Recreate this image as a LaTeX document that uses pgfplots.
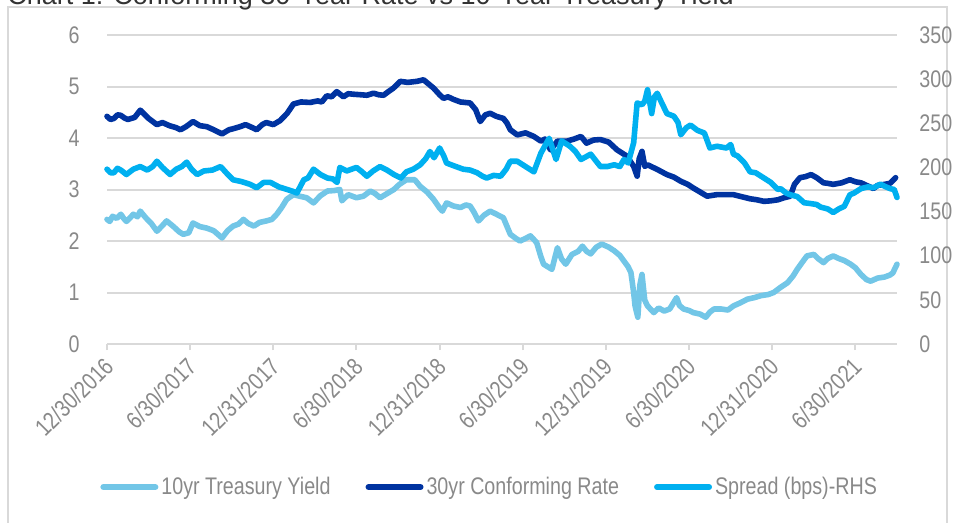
\documentclass[border=0pt]{standalone}
\usepackage{fontspec}
\setmainfont{Liberation Sans}[FakeStretch=0.82]
\newfontfamily\titlefont{Liberation Sans}
\usepackage{pgfplots}
\pgfplotsset{compat=1.18}
\definecolor{cten}{RGB}{114,198,231}
\definecolor{cthirty}{RGB}{0,51,160}
\definecolor{cspr}{RGB}{0,176,240}
\definecolor{gridgray}{RGB}{217,217,217}
\definecolor{labgray}{RGB}{137,137,137}
\begin{document}
\begin{tikzpicture}
\draw[gridgray, line width=0.9pt] (4pt,-3.5pt) rectangle (473.5pt,-280pt);
\node[anchor=base west, inner sep=0pt, text=black!80, font=\titlefont\fontsize{13.5}{16}\selectfont] at (3.5pt,-2.5pt) {Chart 1: Conforming 30-Year Rate vs 10-Year Treasury Yield};
\pgfplotsset{
  base/.style={
    at={(53.5pt,-172pt)}, anchor=south west, scale only axis,
    width=395pt, height=154.5pt,
    xmin=0, xmax=57, ymin=0,
    /pgf/number format/assume math mode=true,
    tick label style={font=\fontsize{12}{14}\selectfont, text=labgray},
    clip=false,
  },
  ser/.style={line width=2.8pt, line join=round, line cap=round, mark=none},
}
\begin{axis}[base,
  ymax=6, ytick={0,1,...,6},
  axis x line*=bottom, axis y line*=left,
  x axis line style={draw=gridgray, line width=1pt},
  y axis line style={draw=none},
  ytick style={draw=none},
  xtick={0,6,...,54},
  xticklabels={12/30/2016,6/30/2017,12/31/2017,6/30/2018,12/31/2018,6/30/2019,12/31/2019,6/30/2020,12/31/2020,6/30/2021},
  xtick style={draw=gridgray, line width=1pt},
  tick align=outside, major tick length=3pt,
  xticklabel style={yshift=-6pt, xshift=1pt, rotate=45, anchor=east, inner sep=0pt},
  yticklabel style={inner sep=0pt, xshift=-10.5pt},
  ymajorgrids, grid style={draw=gridgray, line width=1pt},
]
\addplot[ser, cten] coordinates {
(0,2.42)(0.2,2.38)(0.4,2.48)(0.7,2.44)(1.0,2.52)(1.2,2.44)(1.4,2.38)(1.7,2.46)(1.9,2.52)(2.2,2.47)(2.4,2.58)(2.8,2.45)(3.2,2.34)(3.6,2.19)
(4.0,2.30)(4.3,2.39)(4.8,2.28)(5.2,2.18)(5.5,2.13)(5.9,2.16)(6.2,2.35)(6.7,2.28)(7.2,2.25)(7.7,2.20)
(8.3,2.06)(8.7,2.20)(9.1,2.29)(9.5,2.33)(9.84,2.42)(10.2,2.34)(10.6,2.29)(11.0,2.36)(11.5,2.39)(11.9,2.42)
(12.25,2.52)(12.6,2.65)(12.97,2.81)(13.45,2.90)(13.9,2.87)(14.4,2.84)(14.9,2.74)(15.4,2.88)(15.9,2.97)(16.4,2.98)
(16.8,3.00)(16.95,2.78)(17.4,2.90)(18.0,2.84)(18.5,2.87)(19.0,2.97)(19.35,2.92)(19.7,2.84)(20.2,2.92)(20.7,3.00)
(21.1,3.10)(21.6,3.19)(22.2,3.19)(22.6,3.06)(23.1,2.95)(23.56,2.81)(24.0,2.64)(24.2,2.58)(24.5,2.74)(25.0,2.68)
(25.5,2.65)(25.9,2.70)(26.2,2.68)(26.5,2.55)(26.8,2.39)(27.2,2.50)(27.65,2.58)(28.1,2.52)(28.6,2.45)(29.1,2.13)
(29.5,2.05)(29.8,2.00)(30.2,2.05)(30.55,2.10)(31.0,1.97)(31.3,1.70)(31.5,1.55)(32.1,1.45)(32.5,1.87)(32.8,1.65)
(33.1,1.55)(33.55,1.74)(34.0,1.80)(34.3,1.90)(34.6,1.80)(34.9,1.75)(35.3,1.88)(35.7,1.94)(36.2,1.88)(36.6,1.81)
(37.0,1.72)(37.3,1.61)(37.6,1.50)(37.8,1.39)(38.0,1.00)(38.1,0.74)(38.3,0.52)(38.45,1.15)(38.6,1.35)(38.8,0.85)
(39.0,0.74)(39.45,0.61)(39.8,0.70)(40.2,0.64)(40.6,0.68)(41.1,0.90)(41.3,0.75)(41.6,0.68)(42.0,0.65)(42.3,0.61)
(42.8,0.58)(43.2,0.52)(43.5,0.62)(43.8,0.68)(44.3,0.68)(44.8,0.66)(45.2,0.74)(45.7,0.80)(46.2,0.87)(46.7,0.90)
(47.2,0.94)(47.7,0.96)(48.1,1.00)(48.6,1.10)(49.1,1.19)(49.5,1.32)(49.8,1.45)(50.2,1.60)(50.5,1.71)(51.0,1.74)
(51.3,1.66)(51.7,1.58)(52.0,1.66)(52.4,1.71)(52.8,1.66)(53.2,1.62)(53.65,1.55)(54.0,1.48)(54.4,1.35)(54.8,1.25)
(55.1,1.22)(55.6,1.28)(56.1,1.30)(56.5,1.34)(56.7,1.38)(57.0,1.55)
};
\addplot[ser, cthirty] coordinates {
(0,4.42)(0.25,4.36)(0.5,4.38)(0.75,4.45)(1.0,4.44)(1.25,4.39)(1.5,4.36)(2.0,4.40)(2.4,4.54)(3.0,4.38)(3.6,4.26)(4.0,4.30)(4.5,4.24)
(5.0,4.20)(5.3,4.16)(5.7,4.22)(6.2,4.32)(6.7,4.24)(7.2,4.22)(7.7,4.16)(8.3,4.08)(8.8,4.16)(9.1,4.18)
(9.6,4.22)(10.0,4.26)(10.5,4.20)(10.8,4.16)(11.2,4.26)(11.5,4.30)(12.0,4.26)(12.5,4.34)(13.0,4.48)(13.45,4.66)
(14.0,4.70)(14.66,4.69)(15.2,4.72)(15.5,4.70)(15.86,4.82)(16.2,4.80)(16.58,4.90)(17.06,4.80)(17.4,4.86)(17.79,4.85)
(18.3,4.84)(18.75,4.83)(19.23,4.87)(19.6,4.84)(19.95,4.83)(20.3,4.90)(20.67,4.97)(21.16,5.10)(21.7,5.08)(22.36,5.10)
(22.84,5.13)(23.2,5.05)(23.56,4.97)(24.0,4.84)(24.28,4.77)(24.6,4.80)(25.0,4.75)(25.5,4.70)(26.2,4.68)(26.6,4.55)
(26.93,4.32)(27.3,4.45)(27.65,4.48)(28.1,4.42)(28.6,4.38)(28.86,4.29)(29.1,4.16)(29.6,4.06)(30.2,4.10)(30.8,4.03)
(31.3,3.94)(31.6,3.98)(32.0,3.77)(32.5,3.94)(33.2,3.94)(33.7,3.98)(34.2,4.03)(34.6,3.90)(35.1,3.96)(35.6,3.97)
(36.2,3.92)(36.8,3.77)(37.5,3.65)(38.0,3.45)(38.25,3.26)(38.4,3.60)(38.6,3.74)(38.8,3.45)(39.0,3.48)(39.7,3.39)
(40.4,3.29)(40.9,3.24)(41.4,3.16)(41.9,3.10)(42.3,3.03)(42.8,2.95)(43.3,2.87)(44.0,2.90)(44.6,2.90)(45.2,2.90)
(45.8,2.86)(46.4,2.82)(46.9,2.80)(47.4,2.77)(47.9,2.78)(48.4,2.80)(48.85,2.84)(49.3,2.87)(49.6,3.10)(50.0,3.23)
(50.4,3.25)(50.8,3.29)(51.2,3.23)(51.7,3.13)(52.0,3.12)(52.4,3.10)(53.0,3.13)(53.6,3.19)(54.0,3.15)(54.4,3.13)
(54.8,3.08)(55.3,3.02)(55.6,3.08)(56.1,3.10)(56.5,3.12)(56.9,3.23)
};
\end{axis}
\begin{axis}[base,
  ymax=350, ytick={0,50,...,350},
  axis y line*=right, axis x line=none,
  y axis line style={draw=none}, ytick style={draw=none},
  yticklabel style={inner sep=0pt, xshift=11pt},
  legend style={at={(0.485,-0.463)}, anchor=center, draw=none, fill=none,
    legend columns=3, font=\fontsize{12}{14}\selectfont, text=labgray,
    /tikz/every even column/.append style={column sep=16pt},
    nodes={inner sep=1.5pt}},
  legend image code/.code={\draw[#1, line width=3pt, line cap=round] (0pt,0pt) -- (26pt,0pt);},
]
\addlegendimage{cten}\addlegendentry{10yr Treasury Yield}
\addlegendimage{cthirty}\addlegendentry{30yr Conforming Rate}
\addplot[ser, cspr] coordinates {
(0,198)(0.25,194)(0.5,194)(0.75,199)(1.0,197)(1.4,192)(1.9,198)(2.4,201)(2.9,197)(3.3,201)(3.6,207)(4.0,200)
(4.55,192)(5.0,198)(5.4,201)(5.75,206)(6.1,198)(6.5,192)(7.0,196)(7.6,197)(8.2,201)(8.6,194)
(9.1,186)(9.7,184)(10.3,181)(10.8,177)(11.3,183)(11.8,183)(12.4,178)(13.0,175)(13.4,173)(13.7,171)
(14.2,186)(14.5,188)(14.9,198)(15.4,192)(15.9,188)(16.3,187)(16.6,183)(16.8,200)(17.3,196)(18.0,200)
(18.4,195)(18.75,190)(19.2,196)(19.7,201)(20.2,197)(20.7,192)(21.2,188)(21.6,195)(22.1,198)(22.6,203)
(23.0,210)(23.3,218)(23.6,211)(24.0,222)(24.3,213)(24.5,205)(25.0,202)(25.7,198)(26.2,197)(26.7,194)
(27.1,190)(27.4,188)(27.9,191)(28.4,190)(28.8,198)(29.1,207)(29.6,207)(30.2,201)(30.8,195)(31.3,216)
(31.9,233)(32.4,209)(32.8,230)(33.4,224)(33.8,218)(34.2,209)(34.9,215)(35.3,207)(35.6,201)(36.1,201)
(36.6,203)(37.0,201)(37.3,209)(37.6,205)(38.0,228)(38.25,273)(38.6,271)(38.8,275)(39.0,288)(39.3,261)
(39.5,280)(39.7,284)(40.0,274)(40.4,261)(40.9,258)(41.2,251)(41.4,237)(41.8,245)(42.1,248)(42.6,242)
(43.1,239)(43.5,222)(44.0,224)(44.7,222)(45.0,226)(45.2,215)(45.5,213)(46.0,205)(46.4,195)(46.8,194)
(47.2,190)(47.6,186)(47.9,183)(48.4,175)(48.6,176)(49.0,171)(49.3,169)(49.8,167)(50.3,160)(50.8,159)
(51.2,158)(51.5,155)(52.0,153)(52.4,149)(52.8,153)(53.2,156)(53.6,169)(53.9,171)(54.4,176)(54.9,178)
(55.3,177)(55.8,181)(56.2,178)(56.5,176)(56.8,175)(57.0,166)
};
\addlegendentry{Spread (bps)-RHS}
\end{axis}
\pgfresetboundingbox
\useasboundingbox (0pt,0pt) rectangle (478.5pt,-261.5pt);
\end{tikzpicture}
\end{document}
